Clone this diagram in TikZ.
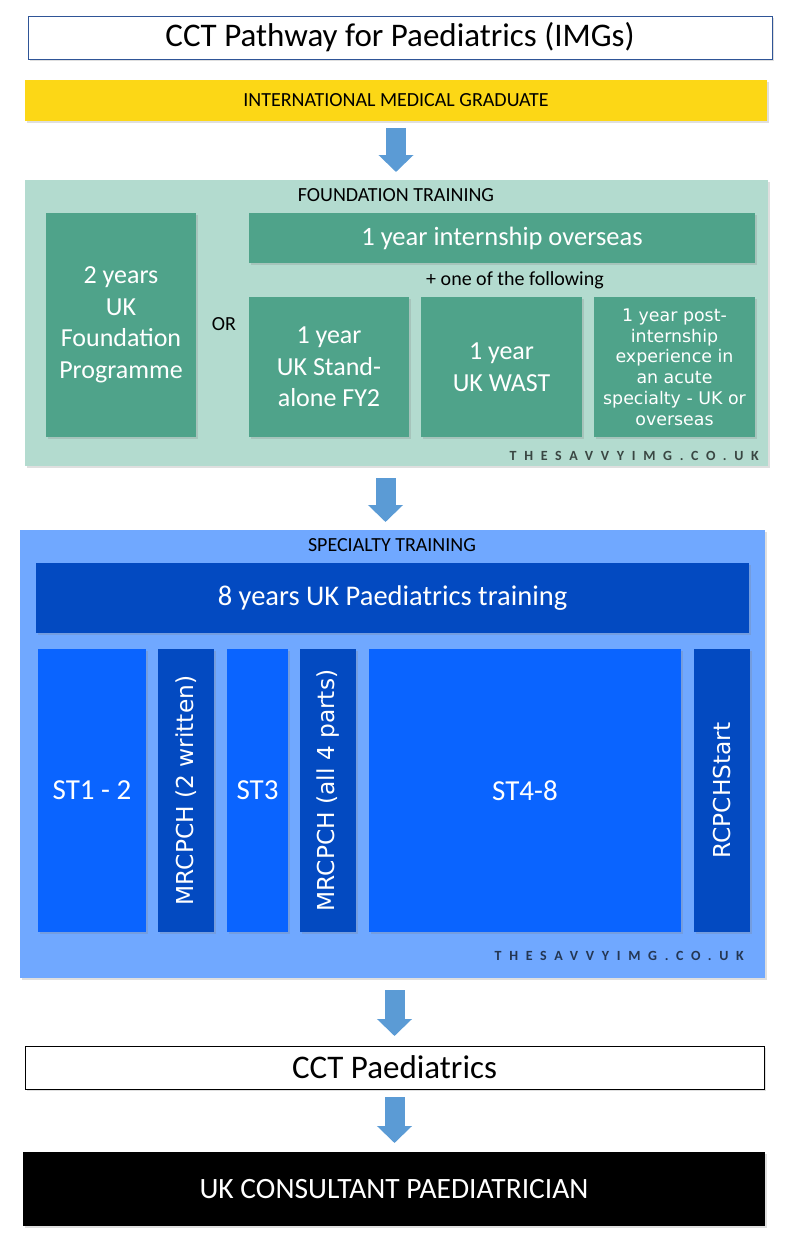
\documentclass[tikz,border=0pt]{standalone}
\usepackage{fontspec}
\setmainfont{Carlito}
\newfontfamily\rotfont{DejaVu Sans}
\usetikzlibrary{positioning,shadows,arrows.meta}

\definecolor{imgyellow}{HTML}{FCD716}
\definecolor{paleteal}{HTML}{B3DBCF}
\definecolor{midteal}{HTML}{4FA38A}
\definecolor{paleblue}{HTML}{70A8FF}
\definecolor{deepblue}{HTML}{034AC1}
\definecolor{brightblue}{HTML}{0A64FF}
\definecolor{arrowblue}{HTML}{5B9BD5}
\definecolor{titleline}{HTML}{2F5597}

\tikzset{
  box/.style={rectangle, inner sep=0pt, outer sep=0pt, align=center,
    drop shadow={shadow xshift=2pt, shadow yshift=-2pt, opacity=.25}},
  tealbox/.style={box, fill=midteal, text=white, font=\fontsize{26}{31.5}\selectfont},
  stbox/.style={box, fill=brightblue, text=white, minimum height=283pt, font=\fontsize{29}{33}\selectfont},
  exambox/.style={box, fill=deepblue, text=white, minimum height=283pt, minimum width=56pt, font=\rotfont\fontsize{23.3}{27}\selectfont},
  hdr/.style={font=\fontsize{20}{24}\selectfont, inner sep=0pt},
  wmark/.style={anchor=east, inner sep=0pt, text=black, text opacity=.68,
    font=\bfseries\fontsize{14}{16}\selectfont\addfontfeature{LetterSpace=55}},
  flow/.style={draw=arrowblue, line width=20pt, -{Triangle[width=34pt,length=17pt]}}
}

\begin{document}
\begin{tikzpicture}[x=1pt, y=-1pt]
  \useasboundingbox (0,0) rectangle (789,1240);

  % title and start
  \node[box, draw=titleline, fill=white, minimum width=744pt, minimum height=43pt,
        font=\fontsize{33}{38}\selectfont] (title) at (400,37.5) {CCT Pathway for Paediatrics (IMGs)};
  \node[box, fill=imgyellow, minimum width=742pt, minimum height=41pt,
        font=\fontsize{20}{24}\selectfont] (igrad) at (396,100.5) {INTERNATIONAL MEDICAL GRADUATE};

  % foundation training
  \node[box, fill=paleteal, minimum width=743pt, minimum height=286pt] (found) at (396.5,323) {};
  \node[hdr] (fhead) at (396,195) {FOUNDATION TRAINING};
  \node[tealbox, minimum width=150pt, minimum height=224pt] (ukfp) at (121,325)
       {2 years\\UK\\Foundation\\Programme};
  \node[hdr] (or) at (224,324) {OR};
  \node[tealbox, minimum width=506pt, minimum height=50pt, font=\fontsize{26.5}{30}\selectfont]
       (intern) at (502,238) {1 year internship overseas};
  \node[hdr] (plus) at (515,280) {+ one of the following};
  \node[tealbox, minimum width=160pt, minimum height=140pt] (fy2) at (329,367)
       {1 year\\UK Stand-\\alone FY2};
  \node[tealbox, minimum width=161pt, minimum height=140pt, right=12pt of fy2] (wast)
       {1 year\\UK WAST};
  \node[tealbox, minimum width=161pt, minimum height=140pt, right=12pt of wast,
        font=\rotfont\fontsize{17.4}{20.8}\selectfont] (acute)
       {1 year post-\\internship\\experience in\\an acute\\specialty - UK or\\overseas};
  \node[wmark] (fmark) at (759,456) {THESAVVYIMG.CO.UK};

  % specialty training
  \node[box, fill=paleblue, minimum width=745pt, minimum height=448pt] (spec) at (392.5,754) {};
  \node[hdr] (shead) at (392,545) {SPECIALTY TRAINING};
  \node[box, fill=deepblue, text=white, minimum width=713pt, minimum height=70pt,
        font=\fontsize{28.5}{32}\selectfont] (eight) at (392.5,598) {8 years UK Paediatrics training};
  \node[stbox, minimum width=108pt] (st12) at (92,790.5) {ST1 - 2};
  \node[exambox, right=12pt of st12] (mrcw) {\rotatebox{90}{MRCPCH (2 written)}};
  \node[stbox, minimum width=61pt, right=13pt of mrcw] (st3) {ST3};
  \node[exambox, right=12pt of st3] (mrca) {\rotatebox{90}{MRCPCH (all 4 parts)}};
  \node[stbox, minimum width=312pt, right=13pt of mrca] (st48) {ST4-8};
  \node[exambox, right=13pt of st48] (rcpch) {\rotatebox{90}{RCPCHStart}};
  \node[wmark] (smark) at (744,956) {THESAVVYIMG.CO.UK};

  % end points
  \node[box, draw=black, fill=white, minimum width=739pt, minimum height=43pt,
        font=\fontsize{33}{38}\selectfont] (cct) at (394.5,1067.5) {CCT Paediatrics};
  \node[box, fill=black, text=white, minimum width=742pt, minimum height=74pt,
        font=\fontsize{29.5}{34}\selectfont] (cons) at (394,1189) {UK CONSULTANT PAEDIATRICIAN};

  % arrows
  \draw[flow, shorten <=7pt, shorten >=8pt] (igrad.south) -- (igrad.south |- found.north);
  \draw[flow, shorten <=12pt, shorten >=8pt] ([xshift=-11pt]found.south) -- ([xshift=-11pt]found.south |- spec.north);
  \draw[flow, shorten <=12pt, shorten >=10pt] ([xshift=2pt]spec.south) -- ([xshift=2pt]spec.south |- cct.north);
  \draw[flow, shorten <=8pt, shorten >=9pt] (cct.south) -- (cct.south |- cons.north);
\end{tikzpicture}
\end{document}
